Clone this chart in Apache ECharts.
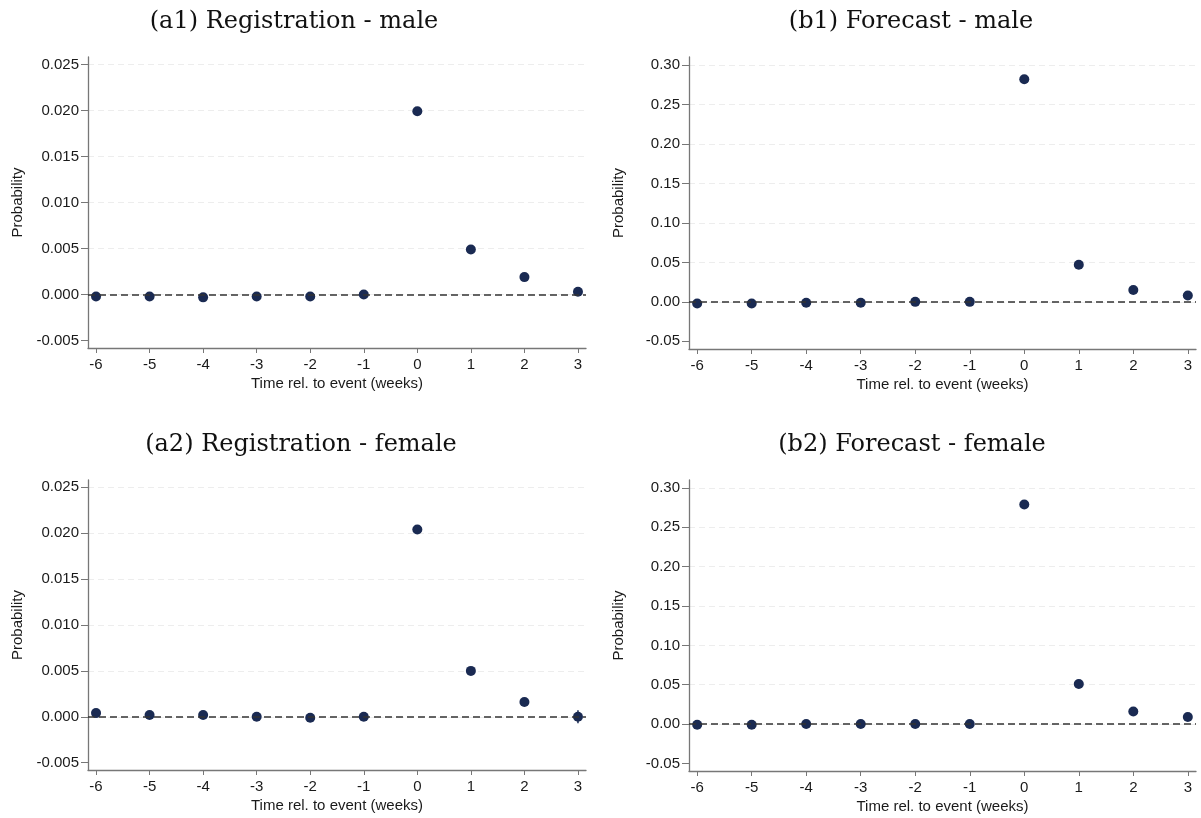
<!DOCTYPE html>
<html>
<head>
<meta charset="utf-8">
<script src="https://cdn.jsdelivr.net/npm/echarts@6/dist/echarts.min.js"></script>
<style>
html, body { margin: 0; padding: 0; background: #fff; }
#chart { width: 1201px; height: 818px; }
</style>
</head>
<body>
<div id="chart"></div>
<script>
// data
var weeks = [-6, -5, -4, -3, -2, -1, 0, 1, 2, 3];
var regMale = [-0.0002, -0.0002, -0.0003, -0.0002, -0.0002, 0.0000, 0.0199, 0.0049, 0.0019, 0.0003];
var regFemale = [0.0004, 0.0002, 0.0002, 0.0000, -0.0001, 0.0000, 0.0204, 0.0050, 0.0016, 0.0000];
var fcMale = [-0.002, -0.002, -0.001, -0.001, 0.000, 0.000, 0.282, 0.047, 0.015, 0.008];
var fcFemale = [-0.001, -0.001, 0.000, 0.000, 0.000, 0.000, 0.279, 0.051, 0.016, 0.009];
var regFemaleCi = [[3, -0.0007, 0.0007]];   // only interval visible past its marker
var regTicks = [-0.005, 0, 0.005, 0.010, 0.015, 0.020, 0.025];
var fcTicks = [-0.05, 0, 0.05, 0.10, 0.15, 0.20, 0.25, 0.30];
var titles = ['(a1) Registration - male', '(b1) Forecast - male', '(a2) Registration - female', '(b2) Forecast - female'];

var navy = '#1a2a52';
var grey = '#777';
var txt = '#1a1a1a';

var grids = [
  {left: 88, top: 57, width: 498, height: 291},
  {left: 689, top: 57, width: 507, height: 292},
  {left: 88, top: 480, width: 498, height: 290},
  {left: 689, top: 480, width: 507, height: 291}
];
var panels = [
  {vals: regMale, ticks: regTicks, dec: 3, min: -0.0058, max: 0.0258},
  {vals: fcMale, ticks: fcTicks, dec: 2, min: -0.0597, max: 0.3102},
  {vals: regFemale, ticks: regTicks, dec: 3, min: -0.0058, max: 0.0258},
  {vals: fcFemale, ticks: fcTicks, dec: 2, min: -0.0597, max: 0.3102}
];
var titlePos = [[289, 5], [906, 5], [296, 428], [907, 428]];

var option = {
  backgroundColor: '#fff',
  animation: false,
  title: [], grid: [], xAxis: [], yAxis: [], series: []
};

panels.forEach(function (p, i) {
  option.title.push({
    text: titles[i], left: titlePos[i][0], top: titlePos[i][1], textAlign: 'center',
    textStyle: {fontFamily: 'DejaVu Serif', fontWeight: 'normal', fontSize: 24, color: '#111'}
  });
  option.grid.push(grids[i]);
  option.xAxis.push({
    type: 'value', gridIndex: i, min: -6.15, max: 3.15,
    name: 'Time rel. to event (weeks)', nameLocation: 'middle', nameGap: 28,
    nameTextStyle: {fontFamily: 'Liberation Sans', fontSize: 15, color: txt},
    axisLine: {onZero: false, lineStyle: {color: grey, width: 1.3}},
    axisTick: {length: 5, lineStyle: {color: grey}, customValues: weeks},
    axisLabel: {customValues: weeks, margin: 9, fontFamily: 'Liberation Sans', fontSize: 15, color: txt},
    splitLine: {show: false}
  });
  var gridColors = p.ticks.map(function (t, k) { return k === 0 ? 'rgba(0,0,0,0)' : '#ededed'; });
  option.yAxis.push({
    type: 'value', gridIndex: i, min: p.min, max: p.max,
    name: 'Probability', nameLocation: 'middle', nameGap: 63,
    nameTextStyle: {fontFamily: 'Liberation Sans', fontSize: 15, color: txt},
    axisLine: {show: true, onZero: false, lineStyle: {color: grey, width: 1.3}},
    axisTick: {show: true, length: 7, lineStyle: {color: grey}, customValues: p.ticks},
    axisLabel: {
      customValues: p.ticks, margin: 9, fontFamily: 'Liberation Sans', fontSize: 15, color: txt,
      formatter: (function (d) { return function (v) { return v.toFixed(d); }; })(p.dec)
    },
    splitLine: {show: true, lineStyle: {color: gridColors, type: [6, 4], width: 1}}
  });
  option.series.push({
    type: 'scatter', xAxisIndex: i, yAxisIndex: i,
    data: weeks.map(function (w, k) { return [w, p.vals[k]]; }),
    symbolSize: 10, itemStyle: {color: navy, opacity: 1},
    markLine: {
      silent: true, symbol: 'none', label: {show: false},
      lineStyle: {color: '#333', type: [7, 4], width: 1.5},
      data: [{yAxis: 0}]
    },
    z: 3
  });
});

// visible confidence interval in panel (a2)
option.series.push({
  type: 'custom', xAxisIndex: 2, yAxisIndex: 2, z: 4,
  data: regFemaleCi,
  renderItem: function (params, api) {
    var lo = api.coord([api.value(0), api.value(1)]);
    var hi = api.coord([api.value(0), api.value(2)]);
    return {type: 'line', shape: {x1: lo[0], y1: lo[1], x2: hi[0], y2: hi[1]},
      style: {stroke: navy, lineWidth: 1.5}};
  }
});

var chart = echarts.init(document.getElementById('chart'));
chart.setOption(option);
window.addEventListener('resize', function () { chart.resize(); });
</script>
</body>
</html>
